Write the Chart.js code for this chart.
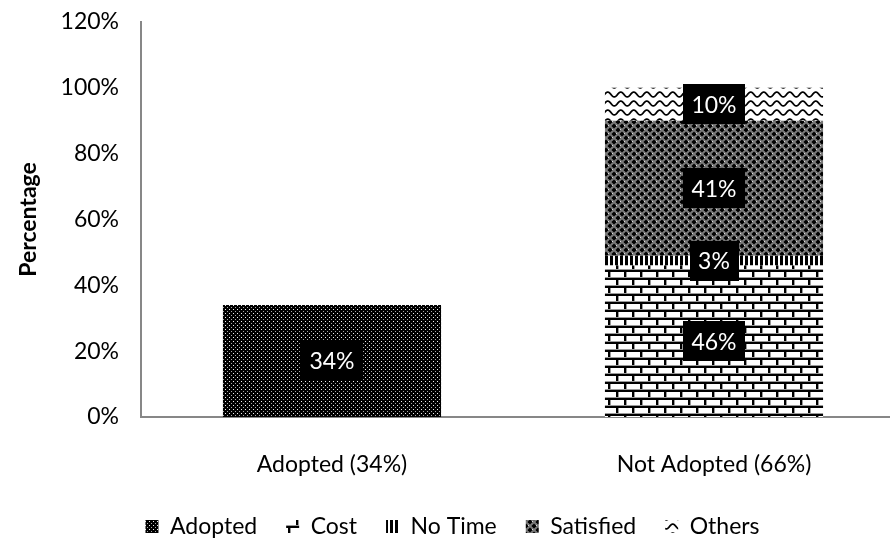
<!DOCTYPE html>
<html>
<head>
<meta charset="utf-8">
<script src="https://cdn.jsdelivr.net/npm/chart.js@4/dist/chart.umd.min.js"></script>
<style>
  html, body { margin: 0; padding: 0; background: #fff; overflow: hidden; }
  #wrap { width: 905px; height: 543px; position: relative; }
</style>
</head>
<body>
<div id="wrap"><canvas id="c"></canvas></div>
<script>
// ---- data ----
const categories = ['Adopted (34%)', 'Not Adopted (66%)'];
const seriesNames = ['Adopted', 'Cost', 'No Time', 'Satisfied', 'Others'];
const adoptedValues   = [34, null];
const costValues      = [null, 46];
const noTimeValues    = [null, 3];
const satisfiedValues = [null, 41];
const othersValues    = [null, 10];
const yAxisTitle = 'Percentage';
const yMin = 0, yMax = 120, yStep = 20;

// ---- patterns ----
function makeTile(w, h, draw) {
  const c = document.createElement('canvas');
  c.width = w; c.height = h;
  const g = c.getContext('2d');
  draw(g, w, h);
  return document.createElement('canvas').getContext('2d').createPattern(c, 'repeat');
}
const patAdopted = makeTile(4, 4, (g) => {
  g.fillStyle = '#000'; g.fillRect(0, 0, 4, 4);
  g.fillStyle = '#f0f0f0'; g.fillRect(1, 1, 1, 1);
  g.fillStyle = '#a8a8a8'; g.fillRect(3, 3, 1, 1);
});
const patCost = makeTile(16, 16, (g) => {
  g.fillStyle = '#fff'; g.fillRect(0, 0, 16, 16);
  g.fillStyle = '#000';
  g.fillRect(0, 6, 16, 2); g.fillRect(0, 14, 16, 2);
  g.fillRect(0, 0, 2, 8); g.fillRect(8, 8, 2, 8);
  g.fillStyle = '#9a9a9a';
  g.fillRect(0, 5, 16, 1); g.fillRect(0, 13, 16, 1);
  g.fillRect(2, 0, 1, 6); g.fillRect(10, 8, 1, 6);
});
const patNoTime = makeTile(5, 4, (g) => {
  g.fillStyle = '#fff'; g.fillRect(0, 0, 5, 4);
  g.fillStyle = '#000'; g.fillRect(0, 0, 3, 4);
});
const patSatisfied = makeTile(8, 8, (g) => {
  g.fillStyle = '#7a7a7a'; g.fillRect(0, 0, 8, 8);
  g.fillStyle = '#000';
  const diamond = (cx, cy) => {
    g.beginPath();
    g.moveTo(cx, cy - 2.6); g.lineTo(cx + 2.6, cy); g.lineTo(cx, cy + 2.6); g.lineTo(cx - 2.6, cy);
    g.closePath(); g.fill();
  };
  diamond(2, 2); diamond(6, 6); diamond(10, 2); diamond(-2, 6); diamond(2, 10); diamond(6, -2);
  g.fillStyle = '#dcdcdc'; g.fillRect(4, 1, 1, 1); g.fillRect(0, 5, 1, 1);
});
const patOthers = makeTile(13, 9, (g) => {
  g.fillStyle = '#fff'; g.fillRect(0, 0, 13, 9);
  g.strokeStyle = '#000'; g.lineWidth = 1.8;
  g.beginPath();
  for (let x = -1; x <= 14; x += 0.5) {
    const y = 4.5 + 2.4 * Math.sin(2 * Math.PI * x / 13);
    if (x === -1) g.moveTo(x, y); else g.lineTo(x, y);
  }
  g.stroke();
});

// ---- value label plugin ----
const valueLabels = {
  id: 'valueLabels',
  afterDatasetsDraw(chart) {
    const ctx = chart.ctx;
    ctx.save();
    ctx.font = '23px Lato';
    ctx.textAlign = 'center';
    ctx.textBaseline = 'middle';
    chart.data.datasets.forEach((ds, di) => {
      const meta = chart.getDatasetMeta(di);
      meta.data.forEach((el, i) => {
        const v = ds.data[i];
        if (v == null) return;
        const p = el.getProps(['x', 'y', 'base'], true);
        const cy = (p.y + p.base) / 2;
        const text = v + '%';
        const w = ctx.measureText(text).width + 17;
        const h = 40;
        ctx.fillStyle = '#000';
        ctx.fillRect(Math.round(p.x - w / 2), Math.round(cy - h / 2), Math.round(w), h);
        ctx.fillStyle = '#fff';
        ctx.fillText(text, p.x, cy + 1);
      });
    });
    ctx.restore();
  }
};

Chart.defaults.font.family = 'Lato';
Chart.defaults.color = '#000';

const patterns = [patAdopted, patCost, patNoTime, patSatisfied, patOthers];
const values = [adoptedValues, costValues, noTimeValues, satisfiedValues, othersValues];

new Chart(document.getElementById('c'), {
  type: 'bar',
  data: {
    labels: categories,
    datasets: seriesNames.map((name, i) => ({
      label: name,
      data: values[i],
      backgroundColor: patterns[i],
      borderWidth: 0,
      categoryPercentage: 1,
      barPercentage: 0.571
    }))
  },
  options: {
    responsive: true,
    maintainAspectRatio: false,
    animation: false,
    layout: { padding: { top: 22, bottom: -5, left: 0, right: 0 } },
    plugins: {
      tooltip: { enabled: false },
      legend: {
        position: 'bottom',
        labels: {
          font: { size: 23 },
          color: '#000',
          boxWidth: 13,
          boxHeight: 13,
          padding: 29
        }
      }
    },
    scales: {
      x: {
        stacked: true,
        grid: { display: false, drawTicks: false },
        border: { display: true, color: '#878787', width: 2 },
        ticks: { font: { size: 23 }, color: '#000', padding: 34, maxRotation: 0 },
        afterFit(scale) { scale.height = 69; }
      },
      y: {
        stacked: true,
        min: yMin, max: yMax,
        grid: { display: false, drawTicks: false },
        border: { display: true, color: '#878787', width: 2 },
        ticks: { stepSize: yStep, font: { size: 23 }, color: '#000', padding: 22,
                 callback: (v) => v + '%' },
        title: { display: true, text: yAxisTitle, font: { size: 23, weight: 'bold' }, color: '#000',
                 padding: { top: 15, bottom: 0 } },
        afterFit(scale) { scale.width = 141; scale.paddingTop = 0; scale.paddingBottom = 0; }
      }
    }
  },
  plugins: [valueLabels]
});
</script>
</body>
</html>
